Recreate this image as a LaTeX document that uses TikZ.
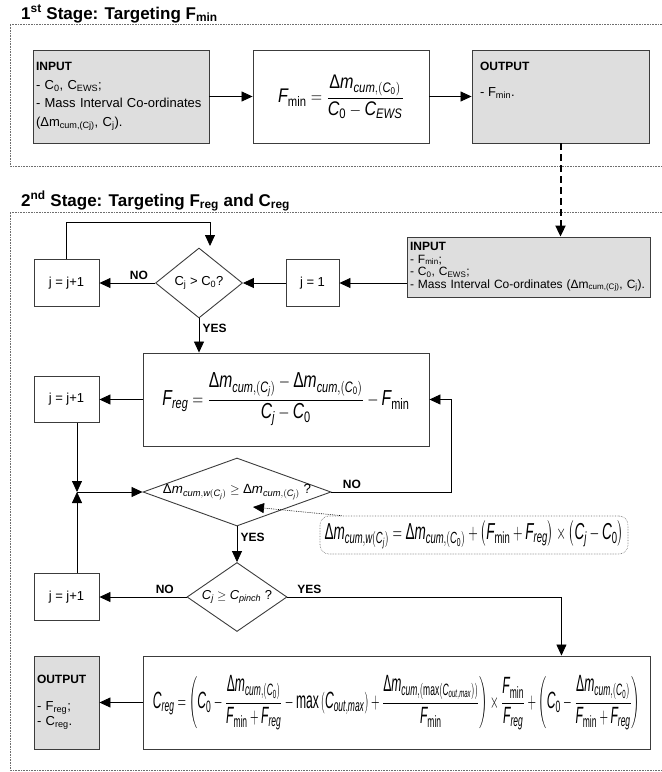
\documentclass[tikz,border=0pt]{standalone}
\usepackage{amsmath}
\usepackage{mathspec}
\setmainfont{Liberation Sans}
\setmathsfont(Digits,Latin){Liberation Sans}
\usetikzlibrary{arrows.meta,shapes.geometric,calc}
\definecolor{boxgrey}{RGB}{222,222,222}
\definecolor{edgegrey}{RGB}{60,60,60}
\definecolor{framegrey}{RGB}{110,110,110}
\newcommand{\hd}[1]{{\fontsize{12}{14}\selectfont\bfseries #1}}
\newcommand{\dm}{\text{Δ}m}
\newcommand{\mn}{\text{min}}

\begin{document}
\begin{tikzpicture}[x=1pt,y=-1pt,font=\fontsize{13}{15}\selectfont,
      box/.style={draw=edgegrey,line width=0.9pt,inner sep=2pt},
      greybox/.style={box,fill=boxgrey},
      decision/.style={draw=edgegrey,line width=0.9pt,diamond,inner sep=0pt},
      arr/.style={-{Triangle[length=11pt,width=10pt]},line width=0.8pt},
      frame/.style={densely dotted,line width=0.6pt,draw=framegrey},
      stagetitle/.style={font=\fontsize{17}{19}\selectfont\bfseries,anchor=base west,inner sep=0pt},
      lbl/.style={font=\fontsize{12}{14}\selectfont\bfseries}]
      \useasboundingbox (0,0) rectangle (662,772);
      \node[stagetitle] (t1) at (21,19) {1\textsuperscript{st} Stage: Targeting F\textsubscript{min}};
      \draw[frame] (665,24) -- (10,24) -- (10,166) -- (665,166);
      \node[greybox,minimum width=176pt,minimum height=93pt,text width=170pt,align=left,font=\fontsize{13}{18.5}\selectfont] (in1) at (121,96.5) {\hd{INPUT}\\- C\textsubscript{0}, C\textsubscript{EWS};\\- Mass Interval Co-ordinates\\(Δm\textsubscript{cum,(Cj)}, C\textsubscript{j}).};
      \node[box,minimum width=176pt,minimum height=93pt] (f1) at (341,96.5) {\resizebox*{126pt}{44pt}{$F_{\mn} = \dfrac{\dm_{cum,(C_0)}}{C_0 - C_{EWS}}$}};
      \node[greybox,minimum width=177pt,minimum height=93pt] (out1) at (560.5,96.5) {};
      \node[anchor=north west,align=left,font=\fontsize{13}{15}\selectfont] (out1txt) at ($(out1.north west)+(5,9)$) {\hd{OUTPUT}\\[11pt]- F\textsubscript{min}.};
      \draw[arr] (in1) -- (f1);
      \draw[arr] (f1) -- (out1);
      \node[stagetitle] (t2) at (21,206) {2\textsuperscript{nd} Stage: Targeting F\textsubscript{reg} and C\textsubscript{reg}};
      \draw[frame] (665,212) -- (10,212) -- (10,770) -- (665,770);
      \node[greybox,minimum width=243pt,minimum height=60pt,text width=237pt,align=left,font=\fontsize{12}{12.5}\selectfont] (in2) at (528.5,267) {\hd{INPUT}\\- F\textsubscript{min};\\- C\textsubscript{0}, C\textsubscript{EWS};\\- Mass Interval Co-ordinates (Δm\textsubscript{cum,(Cj)}, C\textsubscript{j}).};
      \draw[arr,line width=2pt,dash pattern=on 7pt off 4pt] (out1.south) -- (out1.south |- in2.north);
      \node[box,minimum width=53pt,minimum height=47pt] (j1) at (312.5,283) {j = 1};
      \node[decision,minimum width=87pt,minimum height=70pt,label=center:{C\textsubscript{j} > C\textsubscript{0}?}] (d1) at (199,283) {};
      \node[box,minimum width=65pt,minimum height=47pt] (jA) at (66.5,283) {j = j+1};
      \coordinate (loopend) at (210,246);
      \draw[arr] (in2.west |- j1.east) -- (j1.east);
      \draw[arr] (j1) -- (d1);
      \draw[arr] (d1) -- node[lbl,above,pos=0.29] {NO} (jA);
      \draw[arr] (jA.north) -- ++(0,-37) -| (loopend);
      \node[box,minimum width=286pt,minimum height=93pt] (freg) at (286,399.5) {\resizebox*{247pt}{53pt}{$F_{reg} = \dfrac{\dm_{cum,(C_j)} - \dm_{cum,(C_0)}}{C_j - C_0} - F_{\mn}$}};
      \draw[arr] (d1.south) -- node[lbl,right,pos=0.3] {YES} (d1.south |- freg.north);
      \node[box,minimum width=65pt,minimum height=46pt] (jB) at (66.5,399.5) {j = j+1};
      \draw[arr] (freg) -- (jB);
      \coordinate (J) at (77,492);
      \node[decision,minimum width=188pt,minimum height=68pt,label=center:{\resizebox{148pt}{!}{$\dm_{cum,w(C_j)} \geq \dm_{cum,(C_j)}$ ?}}] (d2) at (237,492) {};
      \node[draw=framegrey,densely dotted,line width=0.6pt,rounded corners=9pt,minimum width=308pt,minimum height=38pt] (note) at (474,535) {\resizebox*{299pt}{28pt}{$\dm_{cum,w(C_j)} = \dm_{cum,(C_0)} + \left(F_{\mn} + F_{reg}\right) \times \left(C_j - C_0\right)$}};
      \node[decision,minimum width=100pt,minimum height=69pt,label=center:{\resizebox{70pt}{!}{$C_j \geq C_{pinch}$ ?}}] (d3) at (237,597) {};
      \node[box,minimum width=65pt,minimum height=47pt] (jC) at (66.5,597) {j = j+1};
      \node[box,minimum width=507pt,minimum height=93pt] (creg) at (396.5,702.5) {\resizebox*{487pt}{55pt}{$C_{reg} = \left(C_0 - \dfrac{\dm_{cum,(C_0)}}{F_{\mn} + F_{reg}} - \text{max}\left(C_{out,max}\right) + \dfrac{\dm_{cum,(\text{max}(C_{out,max}))}}{F_{\mn}}\right) \times \dfrac{F_{\mn}}{F_{reg}} + \left(C_0 - \dfrac{\dm_{cum,(C_0)}}{F_{\mn} + F_{reg}}\right)$}};
      \node[greybox,minimum width=65pt,minimum height=93pt,text width=59pt,align=left] (out2) at (66.5,702.5) {\hd{OUTPUT}\\[12pt]- F\textsubscript{reg};\\- C\textsubscript{reg}.};
      \coordinate (yesend) at ($(creg.north east)+(-89,0)$);
      \draw[arr] (jB.south -| J) -- (J);
      \draw[arr] (jC.north -| J) -- (J);
      \draw[arr] (J) -- (d2);
      \draw[arr] (d2.east) -- node[lbl,above,pos=0.17] {NO} ++(120,0) |- (freg.east);
      \draw[arr,densely dotted,line width=0.6pt] ($(note.north west)+(22,0)$) -- ($(d2.center)+(16,15)$);
      \draw[arr] (d2) -- node[lbl,right,pos=0.3] {YES} (d3);
      \draw[arr] (d3) -- node[lbl,above,pos=0.25] {NO} (jC);
      \draw[arr] (d3.east) -- node[lbl,above,pos=0.08] {YES} (d3.east -| yesend) -- (yesend);
      \draw[arr] (creg) -- (out2);
\end{tikzpicture}
\end{document}
